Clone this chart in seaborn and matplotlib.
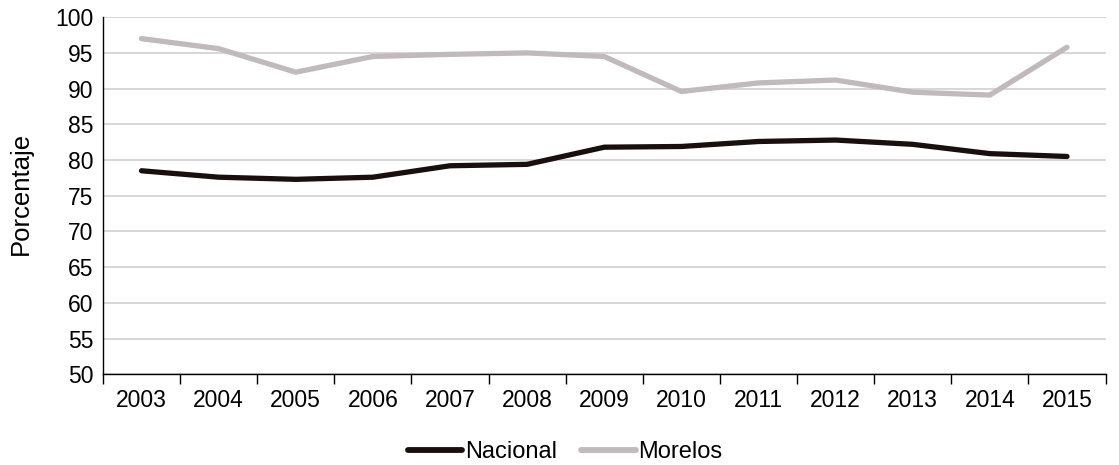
import pandas as pd
import matplotlib.pyplot as plt
import seaborn as sns
import numpy as np

# --------------------------------
# Data
# --------------------------------
years = ['2003', '2004', '2005', '2006', '2007', '2008', '2009',
         '2010', '2011', '2012', '2013', '2014', '2015']
nacional = [78.5, 77.6, 77.3, 77.6, 79.2, 79.4, 81.8, 81.9, 82.6, 82.8, 82.2, 80.9, 80.5]
morelos = [97.0, 95.6, 92.3, 94.5, 94.8, 95.0, 94.5, 89.6, 90.8, 91.2, 89.5, 89.1, 95.8]

df = pd.DataFrame({
    'idx': list(range(len(years))) * 2,
    'valor': nacional + morelos,
    'serie': ['Nacional'] * len(years) + ['Morelos'] * len(years),
})

sns.set_style("white")
plt.rcParams['font.family'] = ['Liberation Sans', 'DejaVu Sans']
plt.rcParams['text.color'] = 'black'
plt.rcParams['xtick.color'] = 'black'
plt.rcParams['ytick.color'] = 'black'
plt.rcParams['axes.labelcolor'] = 'black'

fig, ax = plt.subplots(figsize=(11.19, 4.65), dpi=100)
fig.subplots_adjust(left=0.092, right=0.988, top=0.963, bottom=0.195)

sns.lineplot(data=df, x='idx', y='valor', hue='serie',
             palette={'Nacional': '#1a0f0f', 'Morelos': '#c1b9bc'},
             linewidth=3.8, ax=ax)

ax.set_ylim(50, 100)
ax.set_yticks(np.arange(50, 101, 5))
ax.set_xlim(-0.5, len(years) - 0.5)
ax.set_xticks(range(len(years)))
ax.set_xticklabels(years)
ax.set_xticks(np.arange(-0.5, len(years), 1), minor=True)
ax.tick_params(axis='x', which='major', bottom=False, labelsize=16.5, pad=7)
ax.tick_params(axis='x', which='minor', bottom=True, length=7, width=1,
               color='black', direction='out')
ax.tick_params(axis='y', length=0, labelsize=16.5, pad=7)

ax.grid(axis='y', color='#d0d0d0', linewidth=1.2)
ax.set_axisbelow(True)
for s in ['top', 'right']:
    ax.spines[s].set_visible(False)
ax.spines['left'].set_color('black')
ax.spines['bottom'].set_color('black')
ax.spines['left'].set_linewidth(1)
ax.spines['bottom'].set_linewidth(1)

ax.set_xlabel('')
ax.set_ylabel('Porcentaje', fontsize=18.5)
ax.yaxis.set_label_coords(-0.07, 0.507)

handles, labels = ax.get_legend_handles_labels()
ax.get_legend().remove()
leg = fig.legend(handles, labels, loc='center', bbox_to_anchor=(0.505, 1 - 452 / 465),
                 ncol=2, frameon=False, fontsize=17, handlelength=2.3,
                 handletextpad=0.1, columnspacing=1.05)
for line in leg.get_lines():
    line.set_linewidth(4.2)

plt.savefig('out.png', dpi=100)
